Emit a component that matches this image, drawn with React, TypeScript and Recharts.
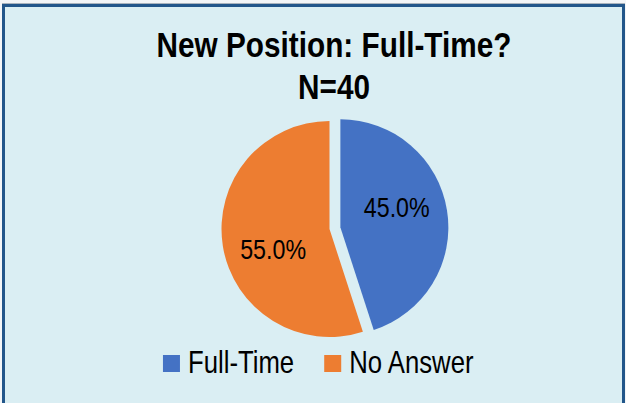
import React from 'react';
import { PieChart, Pie, Cell, Legend } from 'recharts';

const categories = ['Full-Time', 'No Answer'];
const counts = [18, 22];
const sliceColors = ['#4472C4', '#ED7D31'];
const titleLines = ['New Position: Full-Time?', 'N=40'];
const explodedCategory = 'Full-Time';

const W = 626;
const H = 403;
const FONT = '"Liberation Sans", Arial, sans-serif';
// the original is squeezed sideways, so regular glyphs get narrowed a bit
const NARROW = 0.83;
const TITLE_NARROW = 0.85;
const baseCx = 329.5;
const baseCy = 229;
const radius = 108;
const explodeBy = 11;
const RADIAN = Math.PI / 180;

const data = categories.map((name, i) => ({ name, value: counts[i], color: sliceColors[i] }));
const total = counts.reduce((a, b) => a + b, 0);

// mid angle of a slice, pie starts at 12 o'clock and runs clockwise
function midAngleOf(name: string) {
    let acc = 0;
    for (let i = 0; i < categories.length; i++) {
        const sweep = (counts[i] / total) * 360;
        if (categories[i] === name) return 90 - acc - sweep / 2;
        acc += sweep;
    }
    return 0;
}

const explodeAngle = midAngleOf(explodedCategory);
const outCx = baseCx + explodeBy * Math.cos(explodeAngle * RADIAN);
const outCy = baseCy - explodeBy * Math.sin(explodeAngle * RADIAN);

function textWidth(s: string, size: number, weight = 'normal') {
    const ctx = document.createElement('canvas').getContext('2d');
    if (!ctx) return s.length * size * 0.5;
    ctx.font = `${weight} ${size}px "Liberation Sans"`;
    return ctx.measureText(s).width;
}

function makeLabel(visible: string) {
    return (props: any) => {
        const { cx, cy, midAngle, percent, name } = props;
        if (name !== visible) return null;
        // excel's best-fit puts the labels a little counter-clockwise of the middle
        const a = (midAngle + 11) * RADIAN;
        const r = 60;
        const x = cx + r * Math.cos(-a);
        const y = cy + r * Math.sin(-a);
        return (
            <text
                transform={`translate(${x},${y}) scale(${NARROW},1)`}
                textAnchor="middle"
                dominantBaseline="central"
                fontFamily={FONT}
                fontSize={28}
                fill="#000"
            >
                {(percent * 100).toFixed(1)}%
            </text>
        );
    };
}

function renderLegend() {
    const box = 17;
    const boxGap = 8;
    const itemGap = 30;
    const size = 31;
    const widths = categories.map(c => textWidth(c, size) * NARROW);
    const full = widths.reduce((s, w) => s + box + boxGap + w, 0) + itemGap * (categories.length - 1);
    let x = 319 - full / 2;
    const items = categories.map((c, i) => {
        const x0 = x;
        x += box + boxGap + widths[i] + itemGap;
        return (
            <g key={c}>
                <rect x={x0} y={15} width={box} height={box} fill={sliceColors[i]} />
                <text
                    transform={`translate(${x0 + box + boxGap},33) scale(${NARROW},1)`}
                    fontFamily={FONT}
                    fontSize={size}
                    fill="#000"
                >
                    {c}
                </text>
            </g>
        );
    });
    return (
        <svg width={W} height={40}>
            {items}
        </svg>
    );
}

export default function App() {
    return (
        <div style={{ position: 'fixed', left: 0, top: 0, width: W, height: H, overflow: 'hidden', background: '#F3F5F7' }}>
            <div style={{ position: 'absolute', left: 2, top: 3, width: 623, height: 1, background: '#A9B3BD' }} />
            <div
                style={{
                    position: 'absolute',
                    left: 2,
                    top: 4,
                    width: 623,
                    height: 420,
                    boxSizing: 'border-box',
                    border: '3px solid #22568A',
                    background: '#DAEEF3',
                }}
            />
            <div
                style={{
                    position: 'absolute',
                    left: 33.5,
                    top: 24,
                    width: 600,
                    textAlign: 'center',
                    fontFamily: FONT,
                    fontWeight: 'bold',
                    fontSize: 35,
                    lineHeight: '42px',
                    color: '#000',
                    whiteSpace: 'nowrap',
                    transform: `scaleX(${TITLE_NARROW})`,
                    transformOrigin: '50% 0',
                }}
            >
                {titleLines.map(t => (
                    <div key={t}>{t}</div>
                ))}
            </div>
            <div style={{ position: 'absolute', left: 0, top: 0 }}>
                <PieChart width={W} height={H} margin={{ top: 0, right: 0, bottom: 0, left: 0 }}>
                    <Pie
                        data={data}
                        dataKey="value"
                        nameKey="name"
                        cx={baseCx}
                        cy={baseCy}
                        outerRadius={radius}
                        startAngle={90}
                        endAngle={-270}
                        stroke="none"
                        labelLine={false}
                        label={makeLabel('No Answer')}
                        isAnimationActive={false}
                    >
                        {data.map(d => (
                            <Cell key={d.name} fill={d.name === explodedCategory ? 'transparent' : d.color} />
                        ))}
                    </Pie>
                    <Pie
                        data={data}
                        dataKey="value"
                        nameKey="name"
                        cx={outCx}
                        cy={outCy}
                        outerRadius={radius}
                        startAngle={90}
                        endAngle={-270}
                        stroke="none"
                        labelLine={false}
                        label={makeLabel(explodedCategory)}
                        isAnimationActive={false}
                    >
                        {data.map(d => (
                            <Cell key={d.name} fill={d.name === explodedCategory ? d.color : 'transparent'} />
                        ))}
                    </Pie>
                    <Legend
                        content={renderLegend}
                        wrapperStyle={{ position: 'absolute', left: 0, top: 340, width: W, height: 40 }}
                    />
                </PieChart>
            </div>
        </div>
    );
}
